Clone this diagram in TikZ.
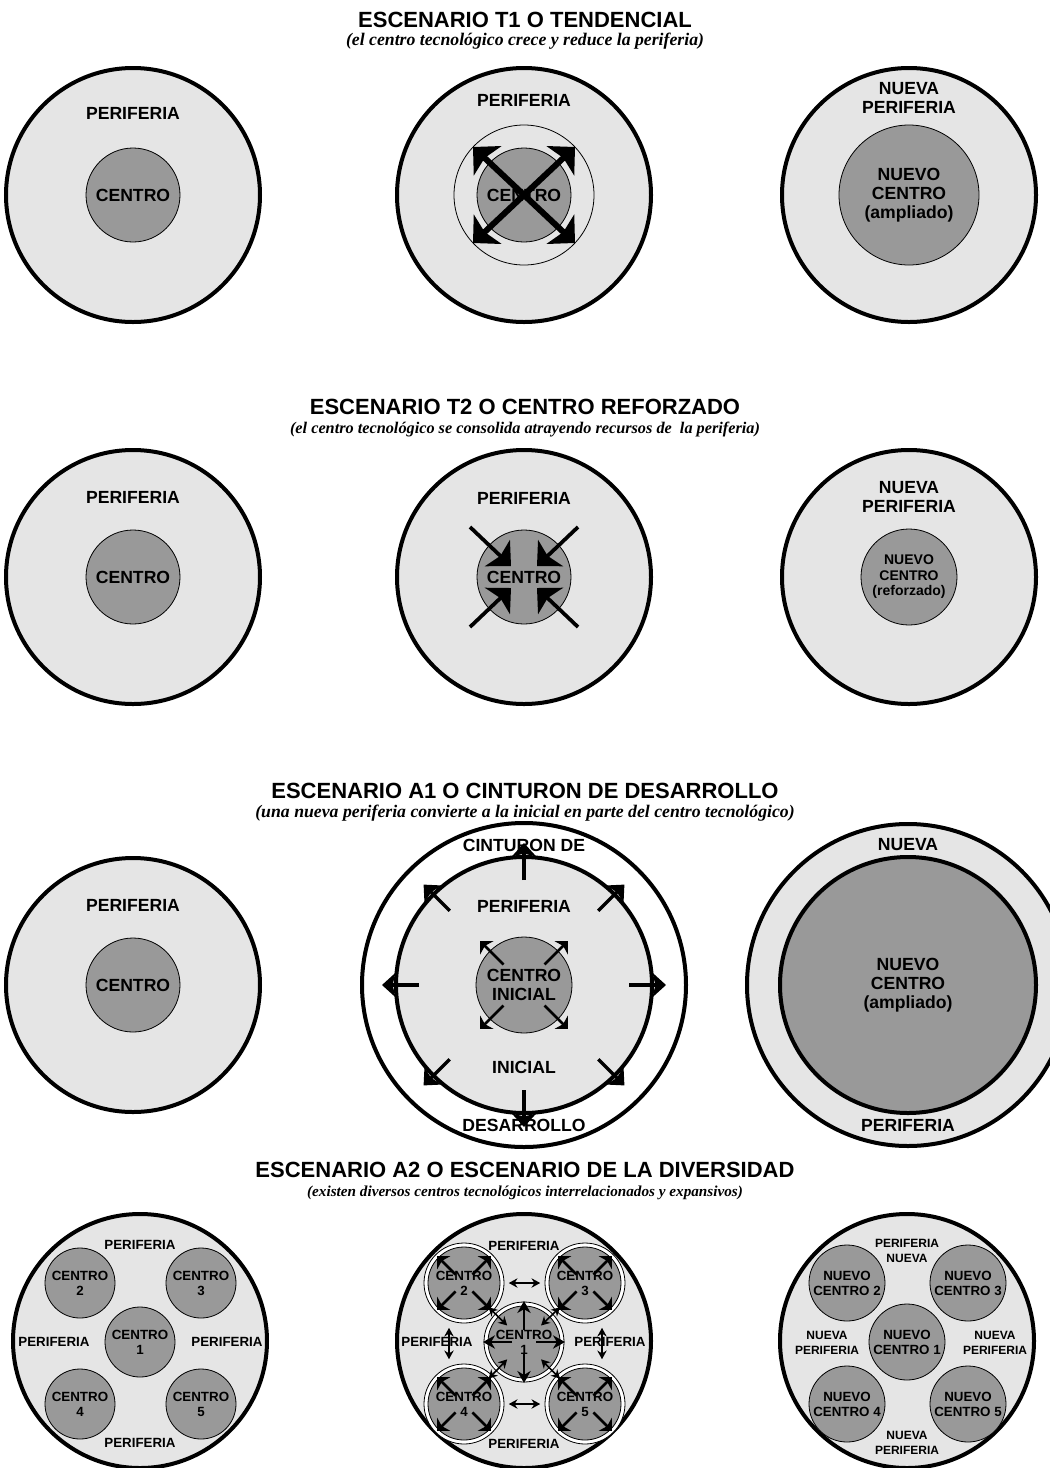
\documentclass[tikz,border=0pt]{standalone}
\usepackage{fontspec}
\setmainfont{Liberation Sans}
\newfontfamily\romana{Liberation Serif}
\usetikzlibrary{arrows.meta,calc}

\tikzset{
  peri/.style={draw, line width=3pt, fill=black!10},
  cinturon/.style={draw, line width=3pt, fill=white},
  centro/.style={draw, line width=0.6pt, fill=black!40},
  anillo/.style={draw, line width=0.6pt},
  titulo/.style={font=\bfseries\fontsize{16.5}{19}\selectfont},
  subtitulo/.style={font=\romana\bfseries\itshape\fontsize{#1}{14}\selectfont},
  subtitulo/.default=12,
  rotulo/.style={font=\bfseries\fontsize{13.2}{14.2}\selectfont, align=center},
  medio/.style={font=\bfseries\fontsize{10.5}{11.6}\selectfont, align=center},
  chico/.style={font=\bfseries\fontsize{10}{11.2}\selectfont, align=center},
  chiquito/.style={font=\bfseries\fontsize{9}{11}\selectfont, align=center},
  gruesa/.style={line width=4.5pt, -{Stealth[length=15pt,width=30pt,inset=3pt]}},
  entrante/.style={line width=2.8pt, -{Stealth[length=14pt,width=27pt,inset=3pt]}},
  mediana/.style={line width=2.5pt, -{Stealth[length=10pt,width=18pt,inset=2pt]}},
  menuda/.style={line width=2pt, -{Stealth[length=7pt,width=14pt,inset=2pt]}},
  eje/.style={line width=2.2pt, -{Stealth[length=9pt,width=10pt]}},
  doble/.style={line width=1.2pt, {Stealth[length=6.5pt,width=7pt]}-{Stealth[length=6.5pt,width=7pt]}}
}

\begin{document}
\begin{tikzpicture}[x=0.75pt, y=-0.75pt]
\useasboundingbox (0,0) rectangle (1050,1468);

\node[titulo] (tit1) at (525,20) {ESCENARIO T1 O TENDENCIAL};
\node[subtitulo=13.3] (sub1) at (525,41) {(el centro tecnológico crece y reduce la periferia)};
\node[titulo] (tit2) at (525,407) {ESCENARIO T2 O CENTRO REFORZADO};
\node[subtitulo=12.2] (sub2) at (525,430) {(el centro tecnológico se consolida atrayendo recursos de\ \ la periferia)};
\node[titulo] (tit3) at (525,791) {ESCENARIO A1 O CINTURON DE DESARROLLO};
\node[subtitulo=13.3] (sub3) at (525,813) {(una nueva periferia convierte a la inicial en parte del centro tecnológico)};
\node[titulo] (tit4) at (525,1170) {ESCENARIO A2 O ESCENARIO DE LA DIVERSIDAD};
\node[subtitulo=11.4] (sub4) at (525,1193) {(existen diversos centros tecnológicos interrelacionados y expansivos)};

% T1
\coordinate (T1a) at (133,195);
\coordinate (T1b) at (524,195);
\coordinate (T1c) at (909,195);
\draw[peri] (T1a) circle[radius=127];
\draw[centro] (T1a) circle[radius=47];
\node[rotulo] (T1aP) at (133,113) {PERIFERIA};
\node[rotulo] (T1aC) at (T1a) {CENTRO};
\draw[peri] (T1b) circle[radius=127];
\draw[anillo] (T1b) circle[radius=70];
\draw[centro] (T1b) circle[radius=47];
\foreach \sx/\sy in {-1/-1,1/-1,-1/1,1/1}
  \draw[gruesa] (T1b) -- ++(\sx*51,\sy*48);
\node[rotulo] (T1bP) at (524,100) {PERIFERIA};
\node[rotulo] (T1bC) at (T1b) {CENTRO};
\draw[peri] (T1c) circle[radius=127];
\draw[centro] (T1c) circle[radius=70];
\node[rotulo] (T1cP) at (909,98) {NUEVA\\PERIFERIA};
\node[rotulo] (T1cC) at (T1c) {NUEVO\\CENTRO\\(ampliado)};

% T2
\coordinate (T2a) at (133,577);
\coordinate (T2b) at (524,577);
\coordinate (T2c) at (909,577);
\draw[peri] (T2a) circle[radius=127];
\draw[centro] (T2a) circle[radius=47];
\node[rotulo] (T2aP) at (133,497) {PERIFERIA};
\node[rotulo] (T2aC) at (T2a) {CENTRO};
\draw[peri] (T2b) circle[radius=127];
\draw[centro] (T2b) circle[radius=47];
\foreach \sx/\sy in {-1/-1,1/-1,-1/1,1/1}
  \draw[entrante] ($(T2b)+(\sx*54,\sy*50)$) -- ($(T2b)+(\sx*13,\sy*11)$);
\node[rotulo] (T2bP) at (524,498) {PERIFERIA};
\node[rotulo] (T2bC) at (T2b) {CENTRO};
\draw[peri] (T2c) circle[radius=127];
\draw[centro] (T2c) circle[radius=48];
\node[rotulo] (T2cP) at (909,497) {NUEVA\\PERIFERIA};
\node[medio] (T2cC) at (T2c) {NUEVO\\CENTRO\\(reforzado)};

% A1
\coordinate (A1a) at (133,985);
\coordinate (A1b) at (524,985);
\coordinate (A1c) at (908,985);
\draw[peri] (A1a) circle[radius=127];
\draw[centro] (A1a) circle[radius=47];
\node[rotulo] (A1aP) at (133,905) {PERIFERIA};
\node[rotulo] (A1aC) at (A1a) {CENTRO};
\draw[cinturon] (A1b) circle[radius=162];
\draw[peri] (A1b) circle[radius=128];
\draw[centro] (A1b) circle[radius=48];
\foreach \ang in {0,45,...,315}
  \draw[mediana] ($(A1b)+(\ang:105)$) -- ($(A1b)+(\ang:142)$);
\foreach \ang in {45,135,225,315}
  \draw[menuda] ($(A1b)+(\ang:29)$) -- ($(A1b)+(\ang:62)$);
\node[rotulo] (A1bT) at (524,845) {CINTURON DE};
\node[rotulo] (A1bP) at (524,906) {PERIFERIA};
\node[rotulo] (A1bC) at (A1b) {CENTRO\\INICIAL};
\node[rotulo] (A1bI) at (524,1067) {INICIAL};
\node[rotulo] (A1bD) at (524,1125) {DESARROLLO};
\draw[peri] (A1c) circle[radius=161];
\draw[peri, fill=black!40] (A1c) circle[radius=128];
\node[rotulo] (A1cT) at (908,845) {NUEVA};
\node[rotulo] (A1cC) at (A1c) {NUEVO\\CENTRO\\(ampliado)};
\node[rotulo] (A1cP) at (908,1125) {PERIFERIA};

% A2
\coordinate (A2a) at (140,1341);
\coordinate (A2b) at (524,1341);
\coordinate (A2c) at (907,1341);
\draw[peri] (A2a) circle[radius=127];
\draw[peri] (A2b) circle[radius=127];
\draw[peri] (A2c) circle[radius=127];
\foreach \n/\dx/\dy in {1/0/1,2/-60/-58,3/61/-58,4/-60/63,5/61/63} {
  \coordinate (a\n) at ($(A2a)+(\dx,\dy)$);
  \coordinate (b\n) at ($(A2b)+(\dx,\dy)$);
  \coordinate (c\n) at ($(A2c)+(\dx,\dy)$);
  \draw[centro] (a\n) circle[radius=35];
  \draw[anillo, fill=white] (b\n) circle[radius=40];
  \draw[centro] (b\n) circle[radius=36];
  \draw[centro] (c\n) circle[radius=38];
}
\foreach \ang in {0,90,180,270}
  \draw[eje] ($(b1)+(\ang:12)$) -- ($(b1)+(\ang:41)$);
\foreach \n in {2,3,4,5}
  \foreach \ang in {45,135,225,315}
    \draw[menuda] ($(b\n)+(\ang:12)$) -- ($(b\n)+(\ang:38)$);
\draw[doble] ($(b2)!0.41!(b1)$) -- ($(b2)!0.72!(b1)$);
\draw[doble] ($(b3)!0.41!(b1)$) -- ($(b3)!0.72!(b1)$);
\draw[doble] ($(b4)!0.41!(b1)$) -- ($(b4)!0.72!(b1)$);
\draw[doble] ($(b5)!0.41!(b1)$) -- ($(b5)!0.72!(b1)$);
\draw[doble] ($(b2)!0.37!(b3)$) -- ($(b2)!0.63!(b3)$);
\draw[doble] ($(b4)!0.37!(b5)$) -- ($(b4)!0.63!(b5)$);
\draw[doble] ($(b2)!0.37!(b4)+(-15,0)$) -- ($(b2)!0.63!(b4)+(-15,0)$);
\draw[doble] ($(b3)!0.37!(b5)+(17,0)$) -- ($(b3)!0.63!(b5)+(17,0)$);

\foreach \n in {1,...,5} {
  \node[chico] (ta\n) at (a\n) {CENTRO\\\n};
  \node[chico] (tb\n) at (b\n) {CENTRO\\\n};
  \node[chico] (tc\n) at (c\n) {NUEVO\\CENTRO \n};
}
\node[chico] (A2aN) at (140,1245) {PERIFERIA};
\node[chico] (A2aS) at (140,1443) {PERIFERIA};
\node[chico] (A2aO) at (54,1342) {PERIFERIA};
\node[chico] (A2aE) at (227,1342) {PERIFERIA};
\node[chico] (A2bN) at (524,1246) {PERIFERIA};
\node[chico] (A2bS) at (524,1444) {PERIFERIA};
\node[chico] (A2bO) at (437,1342) {PERIFERIA};
\node[chico] (A2bE) at (610,1342) {PERIFERIA};
\node[chiquito] (A2cN) at (907,1251) {PERIFERIA\\NUEVA};
\node[chiquito] (A2cS) at (907,1443) {NUEVA\\PERIFERIA};
\node[chiquito] (A2cO) at (827,1343) {NUEVA\\PERIFERIA};
\node[chiquito] (A2cE) at (995,1343) {NUEVA\\PERIFERIA};
\end{tikzpicture}
\end{document}
